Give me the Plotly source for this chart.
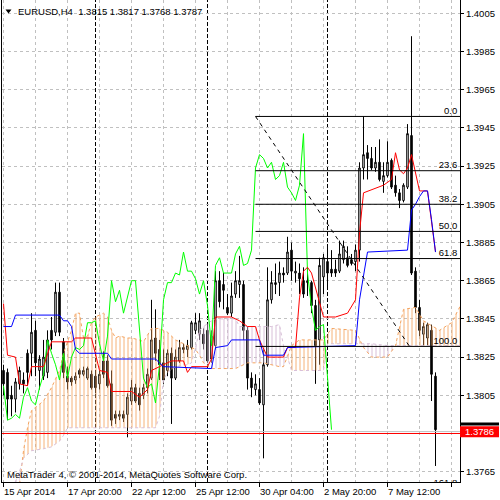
import plotly.graph_objects as go

# ---------------- data ----------------
bars = list(range(109))
opens = [1.3818,1.3817,1.3805,1.3803,1.3811,1.3813,1.3827,1.3827,1.3839,1.3818,
         1.3815,1.3817,1.3839,1.3838,1.3859,1.3833,1.3815,1.3814,1.3813,1.3818,
         1.3816,1.3814,1.3816,1.3815,1.3811,1.3823,1.3823,1.3811,1.3795,1.3794,
         1.3795,1.3795,1.3802,1.3809,1.3806,1.3805,1.3809,1.3814,1.3835,1.3829,
         1.3822,1.3818,1.3827,1.3814,1.3823,1.3830,1.3829,1.3830,1.3839,1.3837,
         1.3837,1.3839,1.3824,1.3831,1.3865,1.3863,1.3851,1.3848,1.3858,1.3863,
         1.3863,1.3839,1.3814,1.3808,1.3808,1.3800,1.3821,1.3855,1.3863,1.3864,
         1.3869,1.3869,1.3881,1.3869,1.3869,1.3865,1.3864,1.3864,1.3852,1.3834,
         1.3867,1.3875,1.3871,1.3871,1.3870,1.3876,1.3877,1.3876,1.3875,1.3881,
         1.3924,1.3932,1.3929,1.3924,1.3927,1.3917,1.3920,1.3928,1.3915,1.3911,
         1.3907,1.3914,1.3941,1.3870,1.3851,1.3837,1.3835,1.3839,1.3815]
highs = [1.3821,1.3819,1.3810,1.3814,1.3820,1.3817,1.3829,1.3848,1.3844,1.3826,
         1.3834,1.3839,1.3846,1.3864,1.3864,1.3835,1.3820,1.3815,1.3817,1.3819,
         1.3820,1.3820,1.3818,1.3818,1.3818,1.3828,1.3826,1.3818,1.3797,1.3797,
         1.3797,1.3806,1.3813,1.3811,1.3809,1.3811,1.3819,1.3855,1.3850,1.3834,
         1.3829,1.3829,1.3830,1.3829,1.3834,1.3832,1.3834,1.3844,1.3848,1.3848,
         1.3840,1.3843,1.3839,1.3870,1.3870,1.3869,1.3858,1.3864,1.3870,1.3878,
         1.3865,1.3841,1.3817,1.3816,1.3814,1.3829,1.3872,1.3870,1.3874,1.3875,
         1.3872,1.3888,1.3885,1.3875,1.3874,1.3872,1.3872,1.3865,1.3855,1.3877,
         1.3879,1.3883,1.3881,1.3876,1.3886,1.3886,1.3883,1.3879,1.3884,1.3927,
         1.3951,1.3936,1.3935,1.3935,1.3939,1.3927,1.3938,1.3929,1.3920,1.3913,
         1.3916,1.3947,1.3993,1.3872,1.3855,1.3843,1.3843,1.3842,1.3817]
lows = [1.3805,1.3792,1.3794,1.3796,1.3808,1.3806,1.3810,1.3815,1.3815,1.3808,
        1.3813,1.3814,1.3829,1.3836,1.3836,1.3814,1.3808,1.3810,1.3811,1.3814,
        1.3815,1.3813,1.3808,1.3806,1.3808,1.3814,1.3809,1.3789,1.3790,1.3792,
        1.3791,1.3783,1.3800,1.3801,1.3797,1.3803,1.3806,1.3813,1.3823,1.3813,
        1.3811,1.3815,1.3790,1.3813,1.3822,1.3827,1.3825,1.3829,1.3837,1.3834,
        1.3829,1.3822,1.3822,1.3829,1.3851,1.3850,1.3847,1.3846,1.3856,1.3856,
        1.3834,1.3808,1.3804,1.3805,1.3800,1.3772,1.3820,1.3853,1.3858,1.3857,
        1.3864,1.3868,1.3865,1.3864,1.3858,1.3856,1.3857,1.3848,1.3811,1.3821,
        1.3858,1.3862,1.3867,1.3867,1.3869,1.3874,1.3872,1.3873,1.3870,1.3875,
        1.3918,1.3918,1.3923,1.3922,1.3917,1.3911,1.3919,1.3913,1.3909,1.3903,
        1.3906,1.3913,1.3868,1.3848,1.3836,1.3831,1.3831,1.3802,1.3768]
closes = [1.3811,1.3803,1.3803,1.3812,1.3818,1.3811,1.3817,1.3838,1.3822,1.3824,
          1.3825,1.3834,1.3834,1.3859,1.3838,1.3817,1.3812,1.3812,1.3815,1.3816,
          1.3818,1.3819,1.3809,1.3809,1.3816,1.3816,1.3810,1.3792,1.3793,1.3795,
          1.3793,1.3804,1.3809,1.3802,1.3800,1.3809,1.3816,1.3834,1.3827,1.3821,
          1.3813,1.3827,1.3814,1.3825,1.3830,1.3829,1.3831,1.3843,1.3843,1.3844,
          1.3832,1.3823,1.3836,1.3865,1.3854,1.3860,1.3848,1.3857,1.3865,1.3865,
          1.3839,1.3814,1.3809,1.3811,1.3801,1.3821,1.3855,1.3864,1.3864,1.3869,
          1.3868,1.3880,1.3870,1.3870,1.3866,1.3858,1.3865,1.3852,1.3831,1.3873,
          1.3877,1.3869,1.3869,1.3869,1.3879,1.3883,1.3873,1.3874,1.3881,1.3924,
          1.3931,1.3929,1.3924,1.3927,1.3918,1.3920,1.3927,1.3914,1.3911,1.3907,
          1.3915,1.3942,1.3869,1.3851,1.3839,1.3841,1.3842,1.3816,1.3787]

# Ichimoku lines
tenkan_bars = [0,1,3,4,6,7,10,11,12,17,18,22,24,26,27,32,34,36,37,42,45,46,47,51,52,53,57,59,61,63,
               64,66,70,71,73,74,75,76,77,80,83,86,88,89,90,95,97,98,99,100,101,102,103,104,106,107,108]
tenkan_vals = [1.3853,1.3826,1.3825,1.3811,1.3810,1.3820,1.3820,1.3827,1.3833,1.3833,
               1.3835,1.3835,1.3818,1.3817,1.3807,1.3807,1.3804,1.3808,1.3818,1.3823,
               1.3823,1.3817,1.3820,1.3820,1.3824,1.3846,1.3846,1.3844,1.3841,1.3841,
               1.3834,1.3825,1.3825,1.3830,1.3830,1.3856,1.3870,1.3872,1.3869,1.3846,
               1.3846,1.3848,1.3855,1.3890,1.3911,1.3915,1.3918,1.3932,1.3923,1.3921,
               1.3924,1.3931,1.3922,1.3912,1.3912,1.3897,1.3880]
kijun_bars = [0,2,3,14,15,16,17,18,19,26,27,38,40,52,53,56,57,64,65,70,71,88,89,90,91,101,102,103,104,105,106,107,108]
kijun_vals = [1.3841,1.3841,1.3847,1.3847,1.3844,1.3844,1.3841,1.3829,1.3827,1.3827,
              1.3824,1.3824,1.3820,1.3819,1.3830,1.3831,1.3834,1.3834,1.3826,1.3826,
              1.3830,1.3831,1.3855,1.3868,1.3880,1.3881,1.3902,1.3905,1.3909,1.3912,
              1.3912,1.3897,1.3880]
chikou_shift = 26

cloud_bars = [0,4,5,6,7,10,12,14,15,16,17,18,19,20,21,22,23,25,26,27,28,29,31,32,34,35,37,38,39,40,
              41,43,46,47,48,49,50,52,53,58,59,61,65,67,69,70,71,72,74,80,81,82,88,90,92,96,98,100,
              103,105,109,112,115]
span_a = [1.3735,1.3758,1.3776,1.3788,1.3797,1.3802,1.3809,1.3818,1.3827,1.3833,1.3839,1.3848,1.3848,
          1.3835,1.3836,1.3843,1.3846,1.3848,1.3846,1.3839,1.3835,1.3836,1.3835,1.3835,1.3834,1.3833,
          1.3840,1.3840,1.3840,1.3839,1.3838,1.3834,1.3831,1.3830,1.3829,1.3826,1.3822,1.3819,1.3819,
          1.3819,1.3820,1.3822,1.3822,1.3821,1.3820,1.3820,1.3826,1.3831,1.3834,1.3834,1.3837,1.3840,
          1.3839,1.3830,1.3825,1.3825,1.3831,1.3850,1.3851,1.3844,1.3839,1.3843,1.3855]
span_b = [1.3745,1.3765,1.3772,1.3774,1.3776,1.3777,1.3778,1.3781,1.3784,1.3788,1.3788,1.3788,1.3788,
          1.3788,1.3788,1.3788,1.3788,1.3788,1.3788,1.3788,1.3788,1.3788,1.3788,1.3788,1.3788,1.3788,
          1.3788,1.3788,1.3794,1.3813,1.3817,1.3820,1.3821,1.3822,1.3830,1.3839,1.3841,1.3844,1.3845,
          1.3845,1.3841,1.3841,1.3841,1.3841,1.3842,1.3831,1.3825,1.3818,1.3818,1.3818,1.3832,1.3832,
          1.3832,1.3832,1.3832,1.3831,1.3831,1.3831,1.3831,1.3831,1.3831,1.3831,1.3831]

fib_bars = [63, 101.5]
fib_prices = [1.39510, 1.38306]
fib_levels = [0.0, 23.6, 38.2, 50.0, 61.8, 100.0, 161.8]

separator_bars = [23, 51, 81]
bid_price = 1.3786
hline_price = 1.3785

y_tick_vals = [1.3765, 1.3805, 1.3825, 1.3845, 1.3865, 1.3885, 1.3905, 1.3925,
               1.3945, 1.3965, 1.3985, 1.4005]
xtick_bars = [0, 16, 32, 48, 64, 80, 96]
xtick_text = ["15 Apr 2014", "17 Apr 20:00", "22 Apr 12:00", "25 Apr 12:00",
              "30 Apr 04:00", "2 May 20:00", "7 May 12:00"]
title_text = "EURUSD,H4\u00a0\u00a01.3815 1.3817 1.3768 1.3787"
copyright_text = "MetaTrader 4, \u00a9 2001-2014, MetaQuotes Software Corp."

# ---------------- figure ----------------
FONT = "Liberation Sans, Arial, sans-serif"
W, H = 500, 500
ML, MR, MT, MB = 2, 40, 0, 18
PW, PH = W - ML - MR, H - MT - MB


def px_x(p):
    return (p - ML) / PW


def px_y(p):
    return (H - MB - p) / PH


fig = go.Figure()

fig.add_trace(go.Candlestick(
    x=bars, open=opens, high=highs, low=lows, close=closes,
    increasing=dict(line=dict(color="black", width=1), fillcolor="white"),
    decreasing=dict(line=dict(color="black", width=1), fillcolor="black"),
    whiskerwidth=0, showlegend=False, hoverinfo="skip"))

# cloud hatch
px_, pa_, pb_ = [cloud_bars[0]], [span_a[0]], [span_b[0]]
for k in range(len(cloud_bars) - 1):
    d0 = span_a[k] - span_b[k]
    d1 = span_a[k + 1] - span_b[k + 1]
    if d0 * d1 < 0:
        t = d0 / (d0 - d1)
        xc = cloud_bars[k] + t * (cloud_bars[k + 1] - cloud_bars[k])
        yc = span_a[k] + t * (span_a[k + 1] - span_a[k])
        px_.append(xc); pa_.append(yc); pb_.append(yc)
    px_.append(cloud_bars[k + 1]); pa_.append(span_a[k + 1]); pb_.append(span_b[k + 1])


def up(k):
    return (pa_[k] + pa_[k + 1]) >= (pb_[k] + pb_[k + 1])


n = len(px_)
k = 0
while k < n - 1:
    s = up(k)
    j = k
    while j + 1 < n - 1 and up(j + 1) == s:
        j += 1
    idx = list(range(k, j + 2))
    xs = [px_[i] for i in idx] + [px_[i] for i in reversed(idx)]
    ys = [pa_[i] for i in idx] + [pb_[i] for i in reversed(idx)]
    col = "#F4A460" if s else "#D8BFD8"
    fig.add_trace(go.Scatter(
        x=xs, y=ys, mode="lines", fill="toself", line=dict(width=0, color=col),
        fillcolor="rgba(0,0,0,0)",
        fillpattern=dict(shape="|", size=4, solidity=0.25, fgcolor=col,
                         bgcolor="rgba(0,0,0,0)", fgopacity=0.85 if s else 1.0),
        showlegend=False, hoverinfo="skip"))
    k = j + 1

fig.add_trace(go.Scatter(x=cloud_bars, y=span_a, mode="lines",
                         line=dict(color="#F4A460", width=1, dash="dot"),
                         showlegend=False, hoverinfo="skip"))
fig.add_trace(go.Scatter(x=cloud_bars, y=span_b, mode="lines",
                         line=dict(color="#D8BFD8", width=1, dash="dot"),
                         showlegend=False, hoverinfo="skip"))

# chikou
fig.add_trace(go.Scatter(x=bars[:len(bars) - chikou_shift], y=closes[chikou_shift:],
                         mode="lines", line=dict(color="#00FF00", width=1),
                         showlegend=False, hoverinfo="skip"))
fig.add_trace(go.Scatter(x=tenkan_bars, y=tenkan_vals, mode="lines",
                         line=dict(color="#FF0000", width=1),
                         showlegend=False, hoverinfo="skip"))
fig.add_trace(go.Scatter(x=kijun_bars, y=kijun_vals, mode="lines",
                         line=dict(color="#0000FF", width=1),
                         showlegend=False, hoverinfo="skip"))

XMIN, XMAX = -0.375, 114.125
YMIN, YMAX = 1.375961, 1.401196

# fibonacci
p0, p100 = fib_prices
fib_level_prices = [p0 - (p0 - p100) * lv / 100.0 for lv in fib_levels]
shapes = []
for fp in fib_level_prices:
    shapes.append(dict(type="line", xref="x", yref="y", x0=fib_bars[0], x1=XMAX,
                       y0=fp, y1=fp, line=dict(color="black", width=1), layer="above"))
shapes.append(dict(type="line", xref="x", yref="y", x0=fib_bars[0], x1=fib_bars[1],
                   y0=p0, y1=p100, line=dict(color="black", width=1, dash="4px,4px"),
                   layer="above"))
fig.add_trace(go.Scatter(
    x=[113.45] * len(fib_levels), y=fib_level_prices, mode="text",
    text=["%.1f" % lv for lv in fib_levels], textposition="top left",
    textfont=dict(family=FONT, size=9.5, color="black"), cliponaxis=True,
    showlegend=False, hoverinfo="skip"))

for sb in separator_bars:
    shapes.append(dict(type="line", xref="x", yref="paper", x0=sb, x1=sb, y0=0, y1=1,
                       line=dict(color="black", width=1, dash="4px,2px"), layer="between"))

shapes.append(dict(type="line", xref="paper", yref="y", x0=0, x1=1, y0=hline_price,
                   y1=hline_price, line=dict(color="#FF0000", width=1), layer="above"))
shapes.append(dict(type="line", xref="paper", yref="y", x0=0, x1=1, y0=bid_price,
                   y1=bid_price, line=dict(color="#C0C0C0", width=1), layer="above"))

# price label box
shapes.append(dict(type="rect", xref="paper", yref="y", x0=px_x(460), x1=px_x(499),
                   y0=1.37892, y1=1.37907, fillcolor="black", line=dict(width=0),
                   layer="above"))
shapes.append(dict(type="rect", xref="paper", yref="y", x0=px_x(460), x1=px_x(499),
                   y0=bid_price - 0.000295, y1=bid_price + 0.000285, fillcolor="#FF0000",
                   line=dict(width=0), layer="above"))
# small triangle at top-left
tx0, tx1, ty0, ty1 = px_x(5.5), px_x(11.5), px_y(9.5), px_y(13.5)
shapes.append(dict(type="path", xref="paper", yref="paper",
                   path="M %f %f L %f %f L %f %f Z" % (tx0, ty0, tx1, ty0, (tx0 + tx1) / 2, ty1),
                   fillcolor="black", line=dict(width=0), layer="above"))

annotations = []
annotations.append(dict(xref="paper", yref="y", x=px_x(463), y=bid_price, text="%.4f" % bid_price,
                        xanchor="left", yanchor="middle", showarrow=False,
                        font=dict(family=FONT, size=9.5, color="white")))
annotations.append(dict(xref="paper", yref="paper", x=px_x(16), y=px_y(11.5), text=title_text,
                        xanchor="left", yanchor="middle", showarrow=False,
                        font=dict(family=FONT, size=9.5, color="black")))
annotations.append(dict(xref="paper", yref="paper", x=px_x(5), y=px_y(474), text=copyright_text,
                        xanchor="left", yanchor="middle", showarrow=False,
                        font=dict(family=FONT, size=9.5, color="black")))
for b, t in zip(xtick_bars, xtick_text):
    annotations.append(dict(xref="x", yref="paper", x=b, y=px_y(492), text=t,
                            xanchor="left", yanchor="middle", xshift=-2, showarrow=False,
                            font=dict(family=FONT, size=9.5, color="black")))

fig.update_layout(
    width=W, height=H, margin=dict(l=ML, r=MR, t=MT, b=MB, pad=0, autoexpand=False),
    paper_bgcolor="white", plot_bgcolor="white", boxgap=0.45,
    showlegend=False, shapes=shapes, annotations=annotations,
    font=dict(family=FONT, size=9.5, color="black"),
    xaxis=dict(range=[XMIN, XMAX], tickmode="linear", tick0=0, dtick=16,
               ticks="outside", ticklen=4, tickcolor="black", tickwidth=1,
               showticklabels=False, showgrid=True, gridcolor="#C0C0C0", griddash="dot",
               gridwidth=1, minor=dict(tick0=0, dtick=8, showgrid=True, gridcolor="#C0C0C0",
                                       griddash="dot", gridwidth=1, ticks=""),
               showline=True, linecolor="black", linewidth=1, zeroline=False,
               rangeslider=dict(visible=False), fixedrange=True),
    yaxis=dict(range=[YMIN, YMAX], side="right", tickmode="array", tickvals=y_tick_vals,
               tickformat=".4f", ticks="outside", ticklen=3, tickcolor="black", tickwidth=1,
               showgrid=True, gridcolor="#C0C0C0", griddash="dot", gridwidth=1,
               showline=True, linecolor="black", linewidth=1, mirror=True, zeroline=False,
               tickfont=dict(family=FONT, size=9.5, color="black"), fixedrange=True),
)

fig.write_html("out.html", config={"displayModeBar": False},
               post_script="document.body.style.margin='0';document.body.style.overflow='hidden';")
